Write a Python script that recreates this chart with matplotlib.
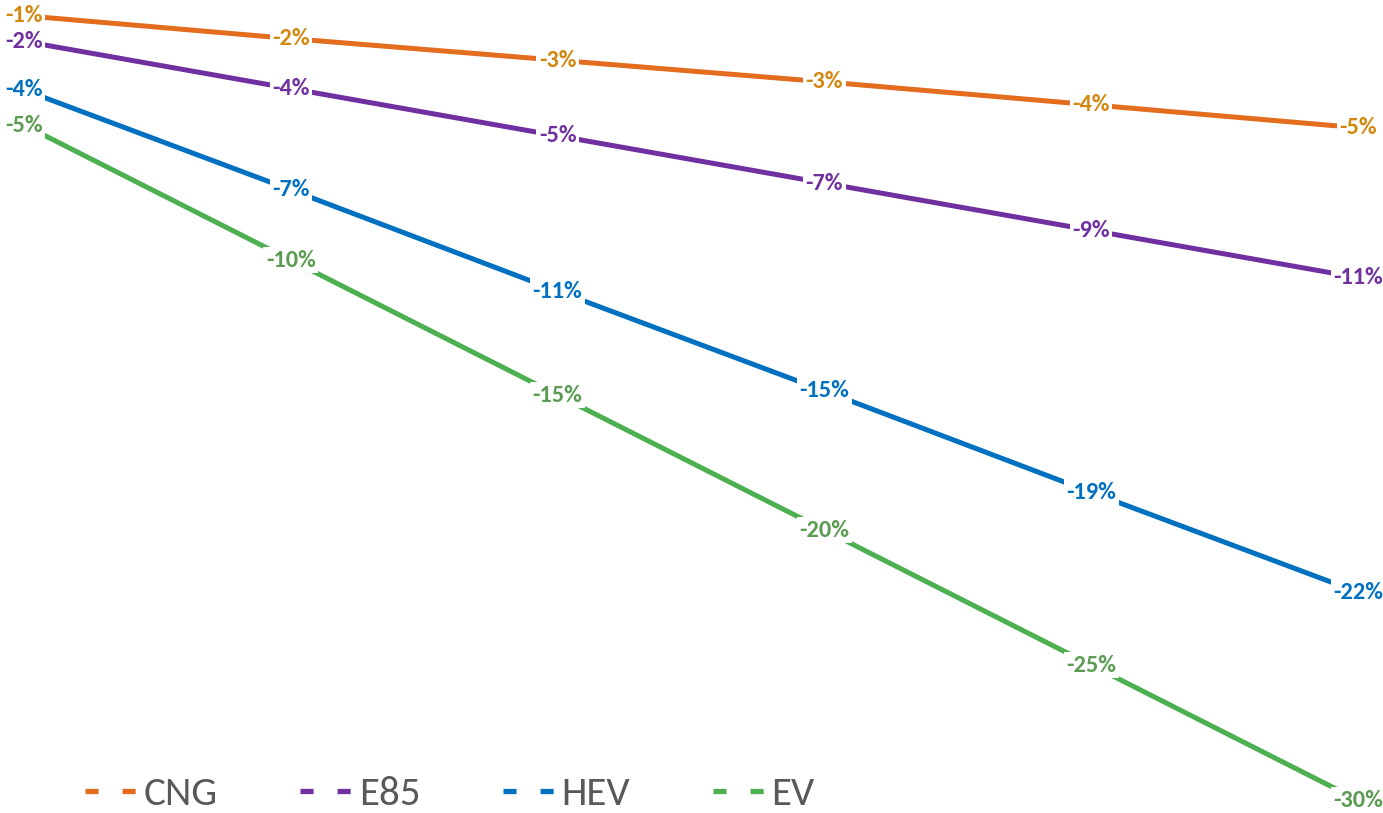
import matplotlib
matplotlib.use("Agg")
import matplotlib.pyplot as plt
from matplotlib.lines import Line2D

# cambio porcentual por serie (6 periodos)
periodos = [1, 2, 3, 4, 5, 6]
cng = [-0.95, -1.8, -2.6, -3.4, -4.25, -5.1]
e85 = [-1.9, -3.65, -5.4, -7.15, -8.9, -10.65]
hev = [-3.7, -7.4, -11.15, -14.85, -18.6, -22.3]
ev = [-5.0, -10.0, -15.0, -20.0, -25.0, -30.0]

series = ["CNG", "E85", "HEV", "EV"]
valores = [cng, e85, hev, ev]
color_linea = ["#E36C1F", "#7030A0", "#0070C0", "#4CAF50"]
color_texto = ["#D3880F", "#7030A0", "#0070C0", "#5B9C52"]

plt.rcParams["lines.scale_dashes"] = False

fig = plt.figure(figsize=(13.83, 8.13), dpi=100)
ax = fig.add_axes([0, 0, 1, 1])
ax.set_xlim(-24 / 266.8 + 1, (1383 - 24) / 266.8 + 1)
ax.set_ylim(-30.48, -0.37)
ax.axis("off")

for nombre, vals, cl, ct in zip(series, valores, color_linea, color_texto):
    ax.plot(periodos, vals, color=cl, linewidth=3.6, solid_capstyle="butt", zorder=2)
    for x, y in zip(periodos, vals):
        ax.text(x, y, "{:.0f}%".format(y), ha="center", va="center",
                fontsize=17.5, fontweight="bold", family="Carlito", color=ct,
                zorder=3,
                bbox=dict(boxstyle="square,pad=0.1", fc="white", ec="none"))

# leyenda con guiones cortos
handles = [Line2D([0], [0], color=c, linewidth=3.8, dashes=(9.4, 17.3))
           for c in color_linea]
leg = fig.legend(handles, series, loc="center left",
                 bbox_to_anchor=(85 / 1383, 1 - 794 / 813), ncol=4,
                 frameon=False, borderpad=0, borderaxespad=0,
                 handlelength=1.27, handletextpad=0.15, columnspacing=2.03,
                 prop={"family": "Carlito", "size": 29.5})
for t in leg.get_texts():
    t.set_color("#595959")

fig.savefig("out.png", dpi=100, facecolor="white")
